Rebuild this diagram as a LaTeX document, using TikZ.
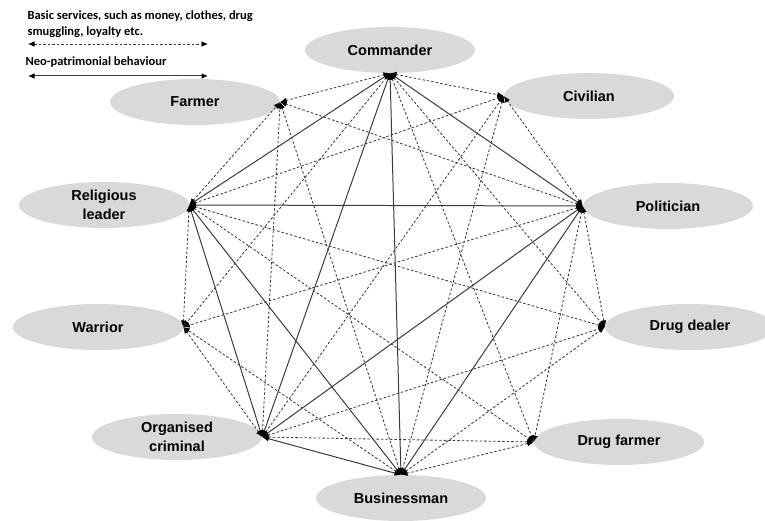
\documentclass[tikz,border=0pt]{standalone}
\usepackage{fontspec}
\setmainfont{Liberation Sans}
\newfontfamily\legendfont{Carlito}
\usetikzlibrary{shapes.geometric,arrows.meta}
\definecolor{actorgray}{HTML}{D9D9D9}
\definecolor{linegray}{HTML}{3C3C3C}
\tikzset{
	actor/.style={ellipse, fill=actorgray, minimum width=170pt, minimum height=46pt, inner sep=0pt,
		align=center, font=\fontsize{14.5}{19.5}\selectfont\bfseries},
	tip/.style={{Latex[length=6.5pt,width=5.5pt,color=black]}-{Latex[length=6.5pt,width=5.5pt,color=black]}},
	service/.style={tip, draw=linegray, line width=0.85pt, dash pattern=on 2.5pt off 2pt},
	patron/.style={tip, draw=linegray, line width=1pt},
	legend/.style={anchor=west, align=left, font=\legendfont\fontsize{12.5}{16}\selectfont\bfseries}
}
\begin{document}
\begin{tikzpicture}[x=1pt, y=-1pt]
	\useasboundingbox (0, 0) rectangle (765, 521);
	% legend
	\node[legend] (servtext) at (24, 24) {Basic services, such as money, clothes, drug\\smuggling, loyalty etc.};
	\node[legend] (patrtext) at (22, 62) {Neo-patrimonial behaviour};
	\coordinate (servl) at (28, 44);
	\coordinate (servr) at (208, 44);
	\coordinate (patrl) at (28, 76);
	\coordinate (patrr) at (208, 76);
	\draw[service] (servl) -- (servr);
	\draw[patron] (patrl) -- (patrr);
	% actors
	\node[actor] (cmd) at (390, 50) {Commander};
	\node[actor] (civ) at (589, 96) {Civilian};
	\node[actor] (pol) at (668, 206) {Politician};
	\node[actor] (dealer) at (690, 327) {Drug dealer};
	\node[actor] (dfarm) at (619, 442) {Drug farmer};
	\node[actor] (bus) at (401, 498) {Businessman};
	\node[actor] (crim) at (177, 437) {Organised\\criminal};
	\node[actor] (war) at (98, 327) {Warrior};
	\node[actor] (rel) at (104, 205) {Religious\\leader};
	\node[actor] (farm) at (195, 102) {Farmer};
	% basic services
	\draw[service] (cmd.south) -- (farm.east);
	\draw[service] (cmd.south) -- (civ.west);
	\draw[service] (cmd.south) -- (dealer.west);
	\draw[service] (cmd.south) -- (dfarm.west);
	\draw[service] (cmd.south) -- (war.east);
	\draw[service] (pol.west) -- (farm.east);
	\draw[service] (pol.west) -- (civ.west);
	\draw[service] (pol.west) -- (dealer.west);
	\draw[service] (pol.west) -- (dfarm.west);
	\draw[service] (pol.west) -- (war.east);
	\draw[service] (rel.east) -- (farm.east);
	\draw[service] (rel.east) -- (civ.west);
	\draw[service] (rel.east) -- (dealer.west);
	\draw[service] (rel.east) -- (dfarm.west);
	\draw[service] (rel.east) -- (war.east);
	\draw[service] (bus.north) -- (farm.east);
	\draw[service] (bus.north) -- (civ.west);
	\draw[service] (bus.north) -- (dealer.west);
	\draw[service] (bus.north) -- (dfarm.west);
	\draw[service] (bus.north) -- (war.east);
	\draw[service] (crim.east) -- (farm.east);
	\draw[service] (crim.east) -- (civ.west);
	\draw[service] (crim.east) -- (dealer.west);
	\draw[service] (crim.east) -- (dfarm.west);
	\draw[service] (crim.east) -- (war.east);
	% neo-patrimonial behaviour
	\draw[patron] (cmd.south) -- (pol.west);
	\draw[patron] (cmd.south) -- (rel.east);
	\draw[patron] (cmd.south) -- (bus.north);
	\draw[patron] (cmd.south) -- (crim.east);
	\draw[patron] (rel.east) -- (pol.west);
	\draw[patron] (rel.east) -- (bus.north);
	\draw[patron] (rel.east) -- (crim.east);
	\draw[patron] (pol.west) -- (bus.north);
	\draw[patron] (pol.west) -- (crim.east);
	\draw[patron] (crim.east) -- (bus.north);
\end{tikzpicture}
\end{document}
